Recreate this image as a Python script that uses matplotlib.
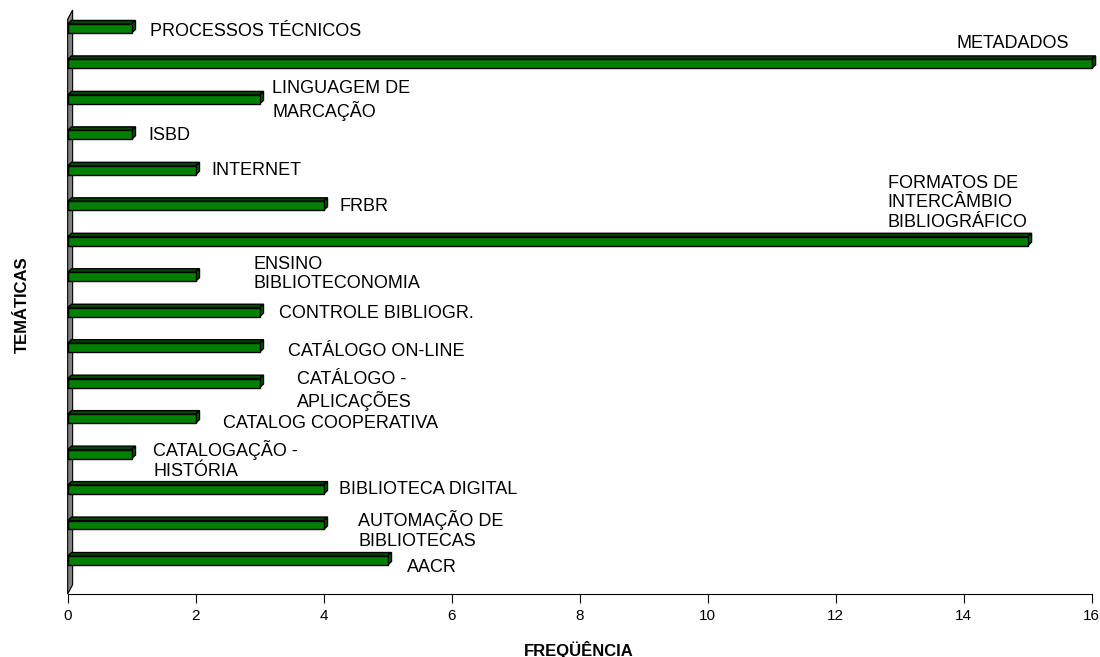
import matplotlib
matplotlib.use("Agg")
import matplotlib.pyplot as plt
from matplotlib.patches import Polygon

# ===== DATA =====
tematicas = [
    "AACR",
    "AUTOMAÇÃO DE\nBIBLIOTECAS",
    "BIBLIOTECA DIGITAL",
    "CATALOGAÇÃO -\nHISTÓRIA",
    "CATALOG COOPERATIVA",
    "CATÁLOGO -\nAPLICAÇÕES",
    "CATÁLOGO ON-LINE",
    "CONTROLE BIBLIOGR.",
    "ENSINO\nBIBLIOTECONOMIA",
    "FORMATOS DE\nINTERCÂMBIO\nBIBLIOGRÁFICO",
    "FRBR",
    "INTERNET",
    "ISBD",
    "LINGUAGEM DE\nMARCAÇÃO",
    "METADADOS",
    "PROCESSOS TÉCNICOS",
]
frequencia = [5, 4, 4, 1, 2, 3, 3, 3, 2, 15, 4, 2, 1, 3, 16, 1]

# label anchor positions (left edge, vertical centre) in data units
label_x = [5.30, 4.54, 4.24, 1.34, 2.42, 3.58, 3.44, 3.30, 2.90, 12.81, 4.25, 2.25, 1.26, 3.20, 13.89, 1.29]
label_y = [-0.20, 0.86, 1.99, 2.84, 3.85, 4.78, 5.89, 6.97, 8.08, 10.08, 9.97, 10.99, 11.98, 12.97, 14.58, 14.91]

x_ticks = [0, 2, 4, 6, 8, 10, 12, 14, 16]

# ===== STYLE =====
plt.rcParams["font.family"] = ["Liberation Sans", "DejaVu Sans"]
FRONT = "#008000"
TOP = "#004800"
SIDE = "#005c00"

BAR_H = 0.25     # front face height
DX, DY = 0.06, 0.10   # bar depth offset
WALL_DX, WALL_DY = 0.078, 0.26
Y_LO, Y_HI = -0.944, 15.52

fig = plt.figure(figsize=(11, 6.57), dpi=100)
ax = fig.add_axes([0.0615, 0.0959, 0.931, 0.8889])
ax.set_xlim(0, 16)
ax.set_ylim(Y_LO, Y_HI)

# ===== LEFT WALL =====
wall = Polygon([(0, Y_LO), (0, Y_HI - WALL_DY), (WALL_DX, Y_HI), (WALL_DX, Y_LO + WALL_DY)],
               closed=True, facecolor="#808080", edgecolor="black", linewidth=0.8,
               clip_on=False, zorder=1)
ax.add_patch(wall)


# ===== 3D BARS =====
def draw_bar(ax, y, v):
    y0, y1 = y - BAR_H / 2, y + BAR_H / 2
    front = [(0, y0), (v, y0), (v, y1), (0, y1)]
    top = [(0, y1), (v, y1), (v + DX, y1 + DY), (DX, y1 + DY)]
    side = [(v, y0), (v + DX, y0 + DY), (v + DX, y1 + DY), (v, y1)]
    for pts, col in [(top, TOP), (side, SIDE), (front, FRONT)]:
        ax.add_patch(Polygon(pts, closed=True, facecolor=col, edgecolor="black",
                             linewidth=1.0, clip_on=False, zorder=3))


for i, v in enumerate(frequencia):
    draw_bar(ax, i, v)
    ax.text(label_x[i], label_y[i], tematicas[i], fontsize=13, ha="left", va="center",
            linespacing=1.2, zorder=4)

# ===== AXES =====
for s in ["top", "right", "left"]:
    ax.spines[s].set_visible(False)
ax.spines["bottom"].set_linewidth(0.8)
ax.set_yticks([])
ax.set_xticks(x_ticks)
ax.tick_params(axis="x", direction="out", length=6.5, width=0.8, labelsize=11, pad=4)

fig.text(579 / 1100, 1 - 650 / 657, "FREQÜÊNCIA", fontsize=12, fontweight="bold",
         ha="center", va="center")
fig.text(22 / 1100, 1 - 305 / 657, "TEMÁTICAS", fontsize=12, fontweight="bold",
         ha="center", va="center", rotation=90)

plt.savefig("out.png", dpi=100)
plt.close()
